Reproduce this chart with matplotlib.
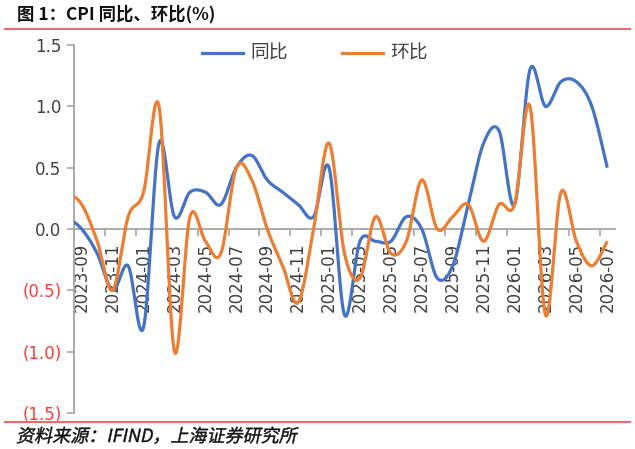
import numpy as np
import matplotlib
matplotlib.use("Agg")
import matplotlib.pyplot as plt
from matplotlib.lines import Line2D
from matplotlib.textpath import TextPath
from matplotlib.patches import PathPatch
from matplotlib.font_manager import FontProperties
from matplotlib.transforms import Affine2D
from matplotlib.ticker import FixedLocator

# ---------------- data ----------------
months = ["2023-09", "2023-10", "2023-11", "2023-12",
          "2024-01", "2024-02", "2024-03", "2024-04", "2024-05", "2024-06",
          "2024-07", "2024-08", "2024-09", "2024-10", "2024-11", "2024-12",
          "2025-01", "2025-02", "2025-03", "2025-04", "2025-05", "2025-06",
          "2025-07", "2025-08", "2025-09", "2025-10", "2025-11", "2025-12",
          "2026-01", "2026-02", "2026-03", "2026-04", "2026-05", "2026-06",
          "2026-07"]
# value of the month before the first label (line enters from the axis)
yoy_prev = 0.1
mom_prev = 0.3
yoy = [0.0, -0.2, -0.5, -0.3,
       -0.8, 0.7, 0.1, 0.3, 0.3, 0.2, 0.5, 0.6, 0.4, 0.3, 0.2, 0.1,
       0.5, -0.7, -0.1, -0.1, -0.1, 0.1, 0.0, -0.4, -0.3, 0.2, 0.7, 0.8,
       0.2, 1.3, 1.0, 1.2, 1.2, 1.0, 0.5]
mom = [0.2, -0.1, -0.5, 0.1,
       0.3, 1.0, -1.0, 0.1, -0.1, -0.2, 0.5, 0.4, 0.0, -0.3, -0.6, 0.0,
       0.7, -0.2, -0.4, 0.1, -0.2, -0.1, 0.4, 0.0, 0.1, 0.2, -0.1, 0.2,
       0.2, 1.0, -0.7, 0.3, -0.1, -0.3, -0.1]
series_names = ["同比", "环比"]
ytick_vals = [-1.5, -1.0, -0.5, 0.0, 0.5, 1.0, 1.5]
ytick_labels = ["(1.5)", "(1.0)", "(0.5)", "0.0", "0.5", "1.0", "1.5"]

BLUE = "#4472C4"
ORANGE = "#ED7D31"
GRAY = "#A6A6A6"
TXT = "#404040"
NEG = "#FF3B3B"
RED_LINE = "#F0686B"

W, H = 635, 449
fig = plt.figure(figsize=(W / 100, H / 100), dpi=100)

def fx(px):
    return px / W

def fy(py):
    return 1 - py / H

ax = fig.add_axes([fx(74), fy(413), fx(615) - fx(74), fy(45) - fy(413)])


def smooth(xs, ys, n=40):
    """Excel-like smoothed line (Catmull-Rom Bezier) for drawing."""
    xs = np.asarray(xs, float)
    ys = np.asarray(ys, float)
    P = np.column_stack([xs, ys])
    Pext = np.vstack([P[0], P, P[-1]])
    out = []
    t = np.linspace(0, 1, n)
    for i in range(len(P) - 1):
        p0, p1, p2, p3 = Pext[i], Pext[i + 1], Pext[i + 2], Pext[i + 3]
        b0 = p1
        b1 = p1 + (p2 - p0) / 6.0
        b2 = p2 - (p3 - p1) / 6.0
        b3 = p2
        seg = ((1 - t) ** 3)[:, None] * b0 + (3 * (1 - t) ** 2 * t)[:, None] * b1 \
            + (3 * (1 - t) * t ** 2)[:, None] * b2 + (t ** 3)[:, None] * b3
        out.append(seg if i == 0 else seg[1:])
    out = np.vstack(out)
    return out[:, 0], out[:, 1]


x = np.arange(-1, len(months))
for vals, prev, col in [(yoy, yoy_prev, BLUE), (mom, mom_prev, ORANGE)]:
    sx, sy = smooth(x, [prev] + list(vals))
    ax.plot(sx, sy, color=col, lw=2.3, solid_capstyle="butt", zorder=3)

ax.set_xlim(-0.5, len(months) - 0.5)
ax.set_ylim(-1.5, 1.5)

# spines
for s in ["top", "right"]:
    ax.spines[s].set_visible(False)
ax.spines["left"].set_color(GRAY)
ax.spines["left"].set_linewidth(1.3)
ax.spines["bottom"].set_position(("data", 0))
ax.spines["bottom"].set_color(GRAY)
ax.spines["bottom"].set_linewidth(1.3)
ax.spines["bottom"].set_zorder(2)

# y ticks
ax.set_yticks(ytick_vals)
ax.set_yticklabels(ytick_labels)
ax.tick_params(axis="y", direction="out", length=5, width=1.2, color=GRAY,
               pad=4, labelsize=12)
for lab, v in zip(ax.get_yticklabels(), ytick_vals):
    lab.set_color(NEG if v < 0 else TXT)

# x ticks: labels at category centres, tick marks at boundaries
idx = list(range(0, len(months), 2))
ax.set_xticks(idx)
ax.set_xticklabels([months[i] for i in idx], rotation=90)
ax.xaxis.set_minor_locator(FixedLocator([i - 0.5 for i in idx]))
ax.tick_params(axis="x", which="major", length=0, pad=10, labelsize=12,
               labelcolor=TXT)
ax.tick_params(axis="x", which="minor", direction="out", length=5, width=1.2,
               color=GRAY)
ax.patch.set_alpha(0)

# legend (manual)
for (x0, x1, tx), name, col in zip([(201.7, 243.3, 250), (341.7, 383.3, 390)],
                                   series_names, [BLUE, ORANGE]):
    fig.add_artist(Line2D([fx(x0), fx(x1)], [fy(53.3), fy(53.3)], color=col,
                          lw=2.3, transform=fig.transFigure))
    fig.text(fx(tx), fy(53.3), name, fontsize=13.5, color=TXT, va="center",
             ha="left", family=["Noto Sans CJK SC", "DejaVu Sans"])

# title
fig.text(fx(17), fy(14.5), "图 1：CPI 同比、环比(%)", fontsize=12.5,
         weight="bold", color="#111111", va="center", ha="left",
         family=["Noto Sans CJK SC", "DejaVu Sans"])
fig.add_artist(Line2D([fx(5), fx(630)], [fy(28.5), fy(28.5)], color=RED_LINE,
                      lw=1.5, transform=fig.transFigure))
fig.add_artist(Line2D([fx(5), fx(630)], [fy(421.5), fy(421.5)], color=RED_LINE,
                      lw=1.5, transform=fig.transFigure))

# footer in slanted (italic-like) text
fp = FontProperties(family="Noto Sans CJK SC", size=13)
tp = TextPath((0, 0), "资料来源：IFIND，上海证券研究所", prop=fp)
tr = Affine2D().scale(100 / 72).skew_deg(12, 0).translate(16, H - 442)
fig.add_artist(PathPatch(tp, transform=tr, facecolor="#111111",
                         edgecolor="#111111", lw=0.3))

fig.savefig("out.png", dpi=100)
